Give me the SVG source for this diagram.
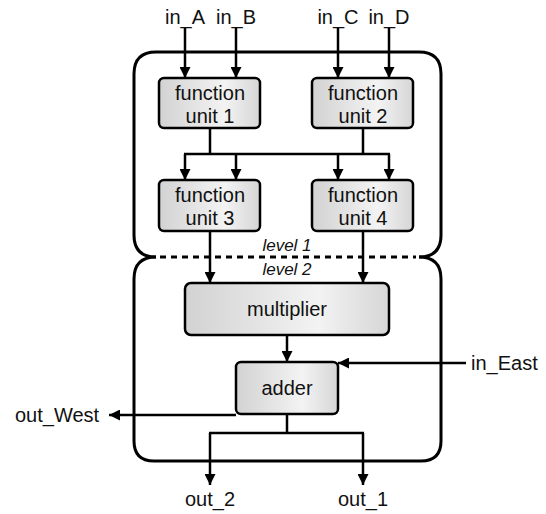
<svg xmlns="http://www.w3.org/2000/svg" width="546" height="514" viewBox="0 0 546 514">
  <style>
    .frame { fill: none; stroke: #000; stroke-width: 3; }
    .dash { fill: none; stroke: #000; stroke-width: 3; stroke-dasharray: 6 5; }
    .unit { fill: url(#shade); stroke: #000; stroke-width: 2.5; }
    .wire { fill: none; stroke: #000; stroke-width: 2.5; }
    .arr { marker-end: url(#head); }
    text { font-family: "Liberation Sans", Arial, sans-serif; font-size: 20px; fill: #111; }
    .lbl { text-anchor: middle; }
    .lvl { font-size: 17px; font-style: italic; text-anchor: middle; }
  </style>
  <defs>
    <linearGradient id="shade" x1="0" y1="0" x2="1" y2="0">
      <stop offset="0" stop-color="#d2d2d2"/>
      <stop offset="0.65" stop-color="#f3f3f3"/>
      <stop offset="1" stop-color="#d6d6d6"/>
    </linearGradient>
    <marker id="head" viewBox="0 0 10 10" refX="10" refY="5" markerWidth="11" markerHeight="11" markerUnits="userSpaceOnUse" orient="auto">
      <path d="M0,0 L10,5 L0,10 Z" fill="#000"/>
    </marker>
  </defs>

  <!-- level frames -->
  <g id="level1">
    <path class="frame" d="M156,257 Q134,257 134,235 L134,74 Q134,52 156,52 L419,52 Q441,52 441,74 L441,235 Q441,257 419,257"/>
    <line class="dash" x1="160" y1="257" x2="416" y2="257"/>
    <text class="lvl" x="287" y="251">level 1</text>
  </g>
  <g id="level2">
    <path class="frame" d="M156,257 Q134,257 134,279 L134,441 Q134,461 154,461 L421,461 Q441,461 441,441 L441,279 Q441,257 419,257"/>
    <text class="lvl" x="287" y="275">level 2</text>
  </g>

  <!-- connectors -->
  <g id="connectors">
    <line class="wire arr" x1="185" y1="28" x2="185" y2="78"/>
    <line class="wire arr" x1="236" y1="28" x2="236" y2="78"/>
    <line class="wire arr" x1="338" y1="28" x2="338" y2="78"/>
    <line class="wire arr" x1="389" y1="28" x2="389" y2="78"/>
    <line class="wire" x1="210" y1="128" x2="210" y2="154"/>
    <line class="wire" x1="363" y1="128" x2="363" y2="154"/>
    <line class="wire" x1="184" y1="154" x2="390" y2="154"/>
    <line class="wire arr" x1="185" y1="154" x2="185" y2="180"/>
    <line class="wire arr" x1="236" y1="154" x2="236" y2="180"/>
    <line class="wire arr" x1="338" y1="154" x2="338" y2="180"/>
    <line class="wire arr" x1="389" y1="154" x2="389" y2="180"/>
    <line class="wire arr" x1="210" y1="231" x2="210" y2="283"/>
    <line class="wire arr" x1="363" y1="231" x2="363" y2="283"/>
    <line class="wire arr" x1="287" y1="335" x2="287" y2="362"/>
    <line class="wire arr" x1="466" y1="363" x2="338" y2="363"/>
    <line class="wire arr" x1="236" y1="415" x2="109" y2="415"/>
    <line class="wire" x1="287" y1="414" x2="287" y2="433"/>
    <line class="wire" x1="209" y1="433" x2="364" y2="433"/>
    <line class="wire arr" x1="210" y1="433" x2="210" y2="485"/>
    <line class="wire arr" x1="363" y1="433" x2="363" y2="485"/>
  </g>

  <!-- units -->
  <g id="fu1">
    <rect class="unit" x="159" y="78" width="101" height="50" rx="5"/>
    <text class="lbl" x="210" y="100">function</text>
    <text class="lbl" x="210" y="123">unit 1</text>
  </g>
  <g id="fu2">
    <rect class="unit" x="312" y="78" width="101" height="50" rx="5"/>
    <text class="lbl" x="363" y="100">function</text>
    <text class="lbl" x="363" y="123">unit 2</text>
  </g>
  <g id="fu3">
    <rect class="unit" x="159" y="180" width="101" height="51" rx="5"/>
    <text class="lbl" x="210" y="202">function</text>
    <text class="lbl" x="210" y="225">unit 3</text>
  </g>
  <g id="fu4">
    <rect class="unit" x="312" y="180" width="101" height="51" rx="5"/>
    <text class="lbl" x="363" y="202">function</text>
    <text class="lbl" x="363" y="225">unit 4</text>
  </g>
  <g id="multiplier">
    <rect class="unit" x="185" y="283" width="204" height="52" rx="6"/>
    <text class="lbl" x="287" y="316">multiplier</text>
  </g>
  <g id="adder">
    <rect class="unit" x="236" y="362" width="102" height="52" rx="5"/>
    <text class="lbl" x="287" y="395">adder</text>
  </g>

  <!-- port labels -->
  <g id="ports">
    <text class="lbl" x="185" y="24">in_A</text>
    <text class="lbl" x="236" y="24">in_B</text>
    <text class="lbl" x="338" y="24">in_C</text>
    <text class="lbl" x="389" y="24">in_D</text>
    <text x="471" y="370">in_East</text>
    <text x="15" y="422">out_West</text>
    <text class="lbl" x="210" y="506">out_2</text>
    <text class="lbl" x="363" y="506">out_1</text>
  </g>
</svg>
